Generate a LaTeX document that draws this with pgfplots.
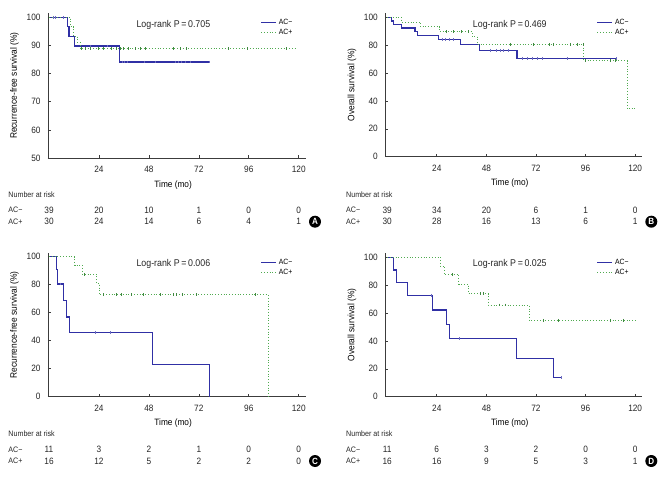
\documentclass[border=0pt]{standalone}
\usepackage{fontspec}
\setmainfont{Liberation Sans}[FakeStretch=0.9]
\usepackage{pgfplots}
\pgfplotsset{compat=1.18}
\definecolor{acm}{RGB}{48,48,165}
\definecolor{acp}{RGB}{80,170,80}
\definecolor{axgray}{RGB}{60,60,60}
\tikzset{risk/.style={font=\fontsize{9.2}{10}\selectfont, text=black!85}}
\pgfplotsset{
 km/.style={
  scale only axis, axis lines=left, axis line style={-, axgray, line width=0.6pt},
  xmin=-0.5, xmax=123.5, xtick={24,48,72,96,120},
  major tick length=3pt, tick style={axgray, line width=0.6pt},
  tick align=inside,
  tick label style={font=\fontsize{9.2}{10}\selectfont, text=black!85},
  /pgf/number format/assume math mode=true,
  xticklabel style={yshift=-4.5pt},
  yticklabel style={xshift=-4pt},
  xlabel={Time (mo)},
  every axis x label/.style={at={(axis description cs:0.485,-0.187)}, anchor=center, font=\fontsize{9.2}{10}\selectfont},
  every axis y label/.style={at={(axis description cs:-0.13,0.5)}, rotate=90, anchor=center, font=\fontsize{9.3}{10}\selectfont},
  clip=false,
  legend style={draw=none, fill=none, font=\fontsize{7.6}{8}\selectfont, at={(axis description cs:0.823,0.975)}, anchor=north west, row sep=-0.5pt, inner sep=0pt},
  legend cell align=left,
 },
 curveM/.style={acm, line width=1.25pt, const plot, mark=none, legend image code/.code={\draw[acm, line width=1.25pt] (0pt,0pt) -- (15pt,0pt);}},
 curveP/.style={acp, line width=0.8pt, dotted, const plot, mark=none, legend image code/.code={\draw[acp, line width=0.8pt, dotted] (0pt,0pt) -- (15pt,0pt);}},
 censM/.style={only marks, mark=|, mark size=1.4pt, acm!70, mark options={line width=0.45pt, solid}, forget plot},
 censP/.style={only marks, mark=|, mark size=1.4pt, acp!80!black, mark options={line width=0.45pt, solid}, forget plot},
}
\newcommand{\riskrow}[8]{%
  \node[risk,yshift=#2] at (axis cs:0,#1) {#3};
  \node[risk,yshift=#2] at (axis cs:24,#1) {#4};
  \node[risk,yshift=#2] at (axis cs:48,#1) {#5};
  \node[risk,yshift=#2] at (axis cs:72,#1) {#6};
  \node[risk,yshift=#2] at (axis cs:96,#1) {#7};
  \node[risk,yshift=#2] at (axis cs:120,#1) {#8};
}
\newcommand{\lbl}[3]{\node[anchor=west, font=\fontsize{7.9}{9}\selectfont, text=black!85, inner sep=0pt] at (#1pt,#2pt) {#3};}
\newcommand{\circlbl}[3]{\node[circle, fill=black, text=white, minimum size=12pt, inner sep=0pt, font=\bfseries\fontsize{9}{10}\selectfont] at (#1pt,#2pt) {#3};}
\begin{document}
\begin{tikzpicture}
\useasboundingbox (0pt,0pt) rectangle (666pt,477pt);
% ---------------- A ----------------
\begin{axis}[km, at={(48pt,319pt)}, anchor=south west, width=258pt, height=144.7pt,
  ymin=50, ymax=101.4, ytick={50,60,70,80,90,100}, ylabel={Recurrence-free survival (\%)}]
\addplot[curveM] coordinates {(0,100)(8.8,96.6)(9.6,93.2)(12.2,89.8)(34,84.1)(77,84.1)};
\addlegendentry{AC−}
\addplot[curveP] coordinates {(0,100)(10.1,96.7)(11.7,93.3)(13.6,91.1)(15,88.8)(119,88.8)};
\addlegendentry{AC+}
\addplot[censM] coordinates {(2.1,100)(2.9,100)(6.9,100)(20,89.8)(28,89.8)(35,84.1)(36.2,84.1)(37.4,84.1)(45.6,84.1)(50.9,84.1)(60.5,84.1)(62,84.1)(63.7,84.1)(65.3,84.1)(67.7,84.1)(77,84.1)};
\addplot[censP] coordinates {(15.5,88.8)(17.3,88.8)(19.7,88.8)(23.7,88.8)(26.1,88.8)(29.8,88.8)(32.5,88.8)(34.1,88.8)(35.7,88.8)(38.1,88.8)(41.3,88.8)(43.7,88.8)(46.1,88.8)(59.7,88.8)(62.9,88.8)(66.1,88.8)(86.1,88.8)(95.2,88.8)(114.1,88.8)};
\node[font=\fontsize{9.8}{11}\selectfont, text=black!85] at (axis description cs:0.486,0.919) {Log-rank P\,=\,0.705};
\riskrow{50}{-52pt}{39}{20}{10}{1}{0}{0}
\riskrow{50}{-63.7pt}{30}{24}{14}{6}{4}{1}
\end{axis}
% ---------------- B ----------------
\begin{axis}[km, at={(385.3pt,320.3pt)}, anchor=south west, width=256.7pt, height=143.4pt,
  xmin=-0.9, xmax=123.3,
  ymin=0, ymax=102.9, ytick={0,20,40,60,80,100}, ylabel={Overall survival (\%)}]
\addplot[curveM] coordinates {(0,100)(2,97.4)(2.9,94.9)(6.9,92.3)(13.5,89.7)(14.5,87.1)(25,84.0)(35.5,80.7)(44.8,76.4)(62.8,70.4)(110.7,70.4)};
\addlegendentry{AC−}
\addplot[curveP] coordinates {(0,100)(7,96.7)(16.1,93.3)(25.5,89.6)(41,86.2)(43.5,80.6)(95.1,69.0)(116.1,34.3)(119.8,34.3)};
\addlegendentry{AC+}
\addplot[censM] coordinates {(26.5,84)(28,84)(30,84)(31.9,84)(49.7,76.4)(52.9,76.4)(54.5,76.4)(56.1,76.4)(58.5,76.4)(65.2,70.4)(67.6,70.4)(70,70.4)(72.4,70.4)(74.8,70.4)(86.9,70.4)(110.7,70.4)};
\addplot[censP] coordinates {(28.7,89.6)(31.9,89.6)(35.9,89.6)(39.2,89.6)(59.4,80.6)(70.8,80.6)(78.5,80.6)(80.5,80.6)(88.6,80.6)(91.8,80.6)(95,80.6)(95.8,69)(107.9,69)(110.3,69)};
\node[font=\fontsize{9.8}{11}\selectfont, text=black!85] at (axis description cs:0.485,0.918) {Log-rank P\,=\,0.469};
\riskrow{0}{-53.3pt}{39}{34}{20}{6}{1}{0}
\riskrow{0}{-65pt}{30}{28}{16}{13}{6}{1}
\end{axis}
% ---------------- C ----------------
\begin{axis}[km, at={(48pt,80.3pt)}, anchor=south west, width=258pt, height=143.4pt,
  ymin=0, ymax=102.4, ytick={0,20,40,60,80,100}, ylabel={Recurrence-free survival (\%)}]
\addplot[curveM] coordinates {(0,100)(3.5,90.9)(4,80.5)(6.9,68.6)(8.5,57)(9.7,45.8)(49.7,22.9)(77,0)};
\addlegendentry{AC−}
\addplot[curveP] coordinates {(0,100)(12.3,93.75)(16,87.5)(22.9,81)(24.2,72.7)(105.3,0)};
\addlegendentry{AC+}
\addplot[censM] coordinates {(5.3,80.5)(22.4,45.8)(29.6,45.8)};
\addplot[censP] coordinates {(17,87.5)(26.1,72.7)(32.5,72.7)(34.9,72.7)(39.7,72.7)(45.3,72.7)(53.6,72.7)(59.7,72.7)(61.3,72.7)(64.2,72.7)(70.9,72.7)(98.9,72.7)};
\node[font=\fontsize{9.8}{11}\selectfont, text=black!85] at (axis description cs:0.486,0.923) {Log-rank P\,=\,0.006};
\riskrow{0}{-52.6pt}{11}{3}{2}{1}{0}{0}
\riskrow{0}{-64.3pt}{16}{12}{5}{2}{2}{0}
\end{axis}
% ---------------- D ----------------
\begin{axis}[km, at={(385.3pt,80.3pt)}, anchor=south west, width=256.7pt, height=143.4pt,
  xmin=-0.9, xmax=123.3,
  ymin=0, ymax=102.9, ytick={0,20,40,60,80,100}, ylabel={Overall survival (\%)}]
\addplot[curveM] coordinates {(0,100)(2.9,90.9)(4.5,81.8)(9.7,72.7)(21.9,62.3)(28.7,51.9)(30,41.5)(62.6,27.6)(80.6,13.8)(84,13.8)};
\addlegendentry{AC−}
\addplot[curveP] coordinates {(0,100)(25.8,93.75)(27.6,87.5)(34.7,80.8)(39.2,74)(48.9,65.8)(68.7,54.8)(120,54.8)};
\addlegendentry{AC+}
\addplot[censM] coordinates {(21.4,72.7)(34.8,41.5)(84,13.8)};
\addplot[censP] coordinates {(31.6,87.5)(44.8,74)(46.5,74)(54,65.8)(57.2,65.8)(75.6,54.8)(82.9,54.8)(107.9,54.8)(114,54.8)};
\node[font=\fontsize{9.8}{11}\selectfont, text=black!85] at (axis description cs:0.485,0.923) {Log-rank P\,=\,0.025};
\riskrow{0}{-52.6pt}{11}{6}{3}{2}{0}{0}
\riskrow{0}{-64.3pt}{16}{16}{9}{5}{3}{1}
\end{axis}
% risk table labels
\lbl{8.3}{282}{Number at risk}
\lbl{8.3}{267}{AC−}
\lbl{8.3}{255.3}{AC+}
\lbl{346}{282}{Number at risk}
\lbl{346}{267}{AC−}
\lbl{346}{255.3}{AC+}
\lbl{8.3}{43.7}{Number at risk}
\lbl{8.3}{27.7}{AC−}
\lbl{8.3}{16}{AC+}
\lbl{346}{43.7}{Number at risk}
\lbl{346}{27.7}{AC−}
\lbl{346}{16}{AC+}
\circlbl{315}{255.3}{A}
\circlbl{651.3}{255.3}{B}
\circlbl{315}{16}{C}
\circlbl{651.3}{16}{D}
\end{tikzpicture}
\end{document}
